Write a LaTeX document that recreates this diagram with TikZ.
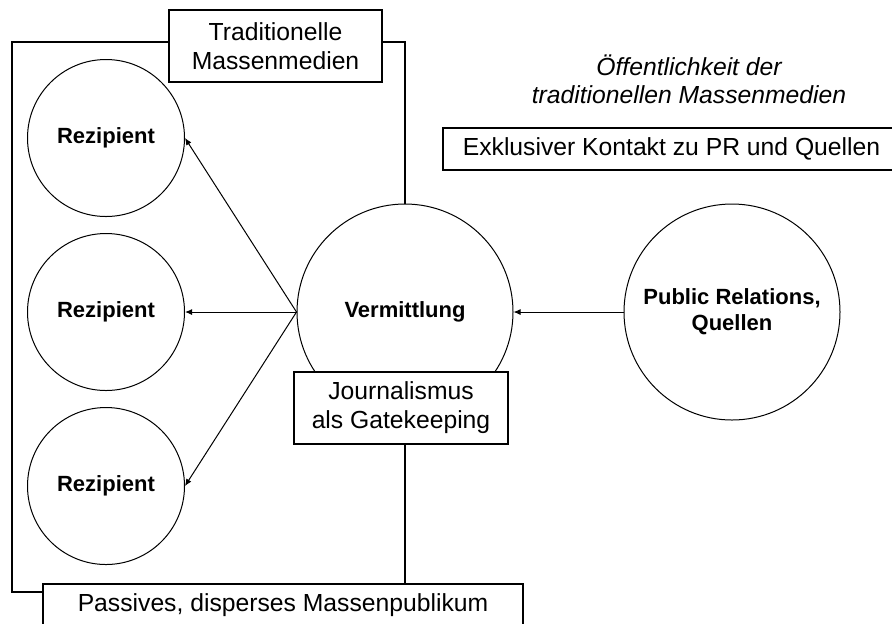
\documentclass[tikz,border=0pt]{standalone}
\usepackage{fontspec}
\setmainfont{Liberation Sans}
\usetikzlibrary{positioning,arrows.meta}

\begin{document}
\begin{tikzpicture}[
x=0.5pt, y=-0.5pt,
node distance = 8pt and 55.75pt,
>={Latex[length=3.5pt,width=3pt]},
     R/.style = {circle, draw, line width=0.5pt, minimum size=78.5pt, inner sep=0pt,
                 align=center, font=\bfseries\fontsize{11}{13}\selectfont},
     C/.style = {R, minimum size=108pt},
     B/.style = {draw, line width=1pt, fill=white, inner sep=0pt, align=center,
                 font=\fontsize{12.35}{14.5}\selectfont},
rahmen/.style = {line width=1pt}
                    ]
\useasboundingbox (0,0) rectangle (892,623);
    \begin{scope}[nodes=R]
\node (r1) at (106,138) {Rezipient};
\node (r2) [below=of r1] {Rezipient};
\node (r3) [below=of r2] {Rezipient};
    \end{scope}
\node (verm) [C, right=of r2] {Vermittlung};
\node (pr)   [C, right=55pt of verm] {Public Relations,\\ Quellen};

\node (trad) [B, minimum width=106.85pt, minimum height=36.15pt] at (275.5,46) {Traditionelle\\ Massenmedien};
\node (jour) [B, minimum width=106.85pt, minimum height=36.15pt] at (401,408) {Journalismus\\ als Gatekeeping};
\node (exkl) [B, minimum width=228.5pt, minimum height=21.25pt] at (671.5,148.75) {Exklusiver Kontakt zu PR und Quellen};
\node (pass) [B, minimum width=240pt, minimum height=21.25pt] at (283,605.25) {Passives, disperses Massenpublikum};
\node (oeff) [align=center, font=\itshape\fontsize{12.35}{14}\selectfont] at (689,79) {Öffentlichkeit der\\ traditionellen Massenmedien};

\coordinate (ol) at (12,41.7);
\coordinate (ul) at (12,591.7);
\draw[rahmen] (trad.west |- ol) -- (ol) -- (ul) -- (pass.west |- ul);
\draw[rahmen] (trad.east |- ol) -| (verm.north);
\draw[rahmen] (jour.south -| verm) -- (pass.north -| verm);

\draw[line width=0.5pt]
        (verm.west) edge[->] (r1.east)
        (verm.west) edge[->] (r2.east)
        (verm.west) edge[->] (r3.east)
        (pr)        edge[->] (verm);
\end{tikzpicture}
\end{document}
